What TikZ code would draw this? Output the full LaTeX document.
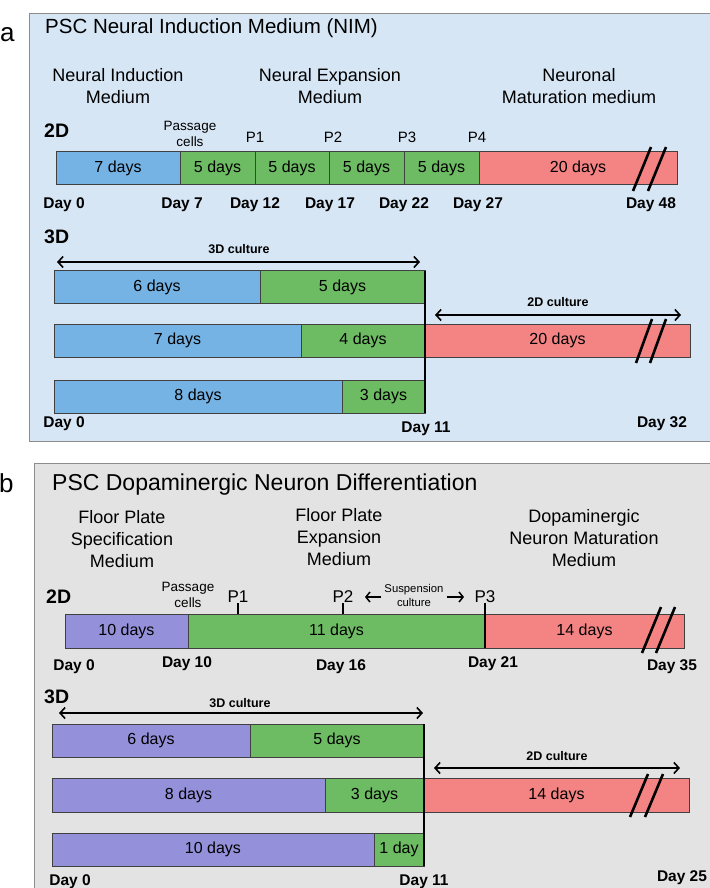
\documentclass[tikz,border=0pt]{standalone}
\usepackage{fontspec}
\setmainfont{Liberation Sans}
\usetikzlibrary{positioning}
\usetikzlibrary{arrows.meta}
\usetikzlibrary{calc}

\definecolor{nimbg}{HTML}{D6E6F5}
\definecolor{dabg}{HTML}{E3E3E3}
\definecolor{nimblue}{HTML}{75B3E5}
\definecolor{expgreen}{HTML}{6DBC63}
\definecolor{matred}{HTML}{F48383}
\definecolor{fppurple}{HTML}{9490DA}
\definecolor{segline}{HTML}{404040}
\definecolor{frameline}{HTML}{8C8C8C}

\begin{document}
\begin{tikzpicture}[x=1pt, y=-1pt, >={Straight Barb[length=5pt,width=11pt]},
	panel/.style = {draw=frameline, line width=1pt},                          % panel frames
	seg/.style = {draw=segline, line width=0.9pt, minimum height=33pt,
	              inner sep=0pt, outer sep=0pt, font=\fontsize{16}{19}\selectfont},
	medium/.style = {align=center, font=\fontsize{18}{22}\selectfont},
	dayl/.style = {inner sep=0pt, font=\bfseries\fontsize{15.5}{18}\selectfont},
	dimlbl/.style = {anchor=west, inner sep=0pt, font=\bfseries\fontsize{19.5}{22}\selectfont},
	passlbl/.style = {align=center, inner sep=0pt, font=\fontsize{13.5}{16}\selectfont},
	plbl/.style = {inner sep=0pt, font=\fontsize{15}{18}\selectfont},
	cultlbl/.style = {inner sep=0pt, font=\bfseries\fontsize{12.5}{15}\selectfont},
	span/.style = {<->, line width=1.6pt},
	sepline/.style = {line width=2.4pt},
	brk/.style = {line width=2.6pt}]
	\useasboundingbox (0,0) rectangle (709,888);

	% ---------- panel a ----------
	\draw[panel, fill=nimbg] (29,14) rectangle (714,441);
	\node[anchor=base west, inner sep=0pt, font=\fontsize{26}{30}\selectfont] (alab) at (0,42) {a};
	\node[anchor=west, inner sep=0pt, font=\fontsize{20.5}{24}\selectfont] (atitle) at (45,28) {PSC Neural Induction Medium (NIM)};
	\node[medium] (amed1) at (118,86) {Neural Induction\\Medium};
	\node[medium] (amed2) at (330,86) {Neural Expansion\\Medium};
	\node[medium] (amed3) at (579,86) {Neuronal\\Maturation medium};

	\node[dimlbl] (a2d) at (44,131) {2D};
	\node[passlbl] (apass) at (190,134) {Passage\\cells};
	\node[plbl] (ap1) at (255,137) {P1};
	\node[plbl] (ap2) at (333,137) {P2};
	\node[plbl] (ap3) at (407,137) {P3};
	\node[plbl] (ap4) at (477,137) {P4};

	\node[seg, fill=nimblue, minimum width=124pt, anchor=west] (ab0) at (56,168) {7 days};
	\node[seg, fill=expgreen, minimum width=75pt, right=0pt of ab0] (ab1) {5 days};
	\node[seg, fill=expgreen, minimum width=74pt, right=0pt of ab1] (ab2) {5 days};
	\node[seg, fill=expgreen, minimum width=75pt, right=0pt of ab2] (ab3) {5 days};
	\node[seg, fill=expgreen, minimum width=75pt, right=0pt of ab3] (ab4) {5 days};
	\node[seg, fill=matred, minimum width=198pt, right=0pt of ab4] (ab5) {20 days};
	\foreach \dx in {0,15}
		\draw[brk] (633+\dx,191) -- (651+\dx,147);
	\foreach \x/\d in {64/0, 182/7, 255/12, 330/17, 404/22, 478/27, 651/48}
		\node[dayl] (ad\d) at (\x,205) {Day \d};

	\node[dimlbl] (a3d) at (44,237) {3D};
	\coordinate (a3l) at (57,262);
	\coordinate (a3r) at (420,262);
	\draw[span] (a3l) -- (a3r);
	\node[cultlbl] (a3cult) at (239,249) {3D culture};

	\node[seg, fill=nimblue, minimum width=206pt, anchor=west] (ar1b) at (54,287) {6 days};
	\node[seg, fill=expgreen, minimum width=165pt, right=0pt of ar1b] (ar1g) {5 days};
	\node[seg, fill=nimblue, minimum width=247pt, anchor=west] (ar2b) at (54,340.5) {7 days};
	\node[seg, fill=expgreen, minimum width=124pt, right=0pt of ar2b] (ar2g) {4 days};
	\node[seg, fill=matred, minimum width=265pt, right=0pt of ar2g] (ar2r) {20 days};
	\node[seg, fill=nimblue, minimum width=288pt, anchor=west] (ar3b) at (54,396.5) {8 days};
	\node[seg, fill=expgreen, minimum width=83pt, right=0pt of ar3b] (ar3g) {3 days};
	\draw[sepline] (ar1g.north east) -- (ar3g.south east);

	\coordinate (a2l) at (435,315);
	\coordinate (a2r) at (681,315);
	\draw[span] (a2l) -- (a2r);
	\node[cultlbl] (a2cult) at (558,302) {2D culture};
	\foreach \dx in {0,14}
		\draw[brk] (636+\dx,363) -- (652+\dx,319);

	\node[dayl] (a3d0) at (64,424) {Day 0};
	\node[dayl] (a3d11) at (426,429) {Day 11};
	\node[dayl] (a3d32) at (662,424) {Day 32};

	% ---------- panel b ----------
	\draw[panel, fill=dabg] (34,463) rectangle (714,892);
	\node[anchor=base west, inner sep=0pt, font=\fontsize{26}{30}\selectfont] (blab) at (-1,492) {b};
	\node[anchor=west, inner sep=0pt, font=\fontsize{23}{27}\selectfont] (btitle) at (52,485) {PSC Dopaminergic Neuron Differentiation};
	\node[medium] (bmed1) at (122,539) {Floor Plate\\Specification\\Medium};
	\node[medium] (bmed2) at (339,537) {Floor Plate\\Expansion\\Medium};
	\node[medium] (bmed3) at (584,538) {Dopaminergic\\Neuron Maturation\\Medium};

	\node[dimlbl] (b2d) at (46,597) {2D};
	\node[passlbl] (bpass) at (188,595) {Passage\\cells};
	\node[plbl, font=\fontsize{17}{20}\selectfont] (bp1) at (238,597) {P1};
	\node[plbl, font=\fontsize{17}{20}\selectfont] (bp2) at (343,597) {P2};
	\node[plbl, font=\fontsize{17}{20}\selectfont] (bp3) at (485,597) {P3};
	\node[passlbl, font=\fontsize{11.3}{14}\selectfont] (bsusp) at (414,595) {Suspension\\culture};
	\coordinate (bsl) at (365,597);
	\coordinate (bsr) at (464,597);
	\draw[->, line width=1.5pt, >={Straight Barb[length=4pt,width=10pt]}] (bsusp.west |- bsl) ++(-3,0) -- (bsl);
	\draw[->, line width=1.5pt, >={Straight Barb[length=4pt,width=10pt]}] (bsusp.east |- bsr) ++(3,0) -- (bsr);

	\node[seg, fill=fppurple, minimum width=123pt, minimum height=34pt, anchor=west] (bb0) at (65,631) {10 days};
	\node[seg, fill=expgreen, minimum width=297pt, minimum height=34pt, right=0pt of bb0] (bb1) {11 days};
	\node[seg, fill=matred, minimum width=199pt, minimum height=34pt, right=0pt of bb1] (bb2) {14 days};
	\draw[line width=1.4pt] (bp1.south) -- (bp1.south |- bb1.north);
	\draw[line width=1.4pt] (bp2.south) -- (bp2.south |- bb1.north);
	\draw[sepline] (bb1.north east |- bp3.south) -- (bb1.south east);
	\foreach \dx in {0,14}
		\draw[brk] (642+\dx,653) -- (661+\dx,607);
	\node[dayl] (bd0) at (74,667) {Day 0};
	\node[dayl] (bd10) at (187,664) {Day 10};
	\node[dayl] (bd16) at (341,667) {Day 16};
	\node[dayl] (bd21) at (493,664) {Day 21};
	\node[dayl] (bd35) at (672,667) {Day 35};

	\node[dimlbl] (b3d) at (44,697) {3D};
	\coordinate (b3l) at (59,713);
	\coordinate (b3r) at (423,713);
	\draw[span] (b3l) -- (b3r);
	\node[cultlbl] (b3cult) at (240,703) {3D culture};

	\node[seg, fill=fppurple, minimum width=198pt, anchor=west] (br1p) at (52,740.5) {6 days};
	\node[seg, fill=expgreen, minimum width=174pt, right=0pt of br1p] (br1g) {5 days};
	\node[seg, fill=fppurple, minimum width=273pt, minimum height=34pt, anchor=west] (br2p) at (52,795) {8 days};
	\node[seg, fill=expgreen, minimum width=99pt, minimum height=34pt, right=0pt of br2p] (br2g) {3 days};
	\node[seg, fill=matred, minimum width=265pt, minimum height=34pt, right=0pt of br2g] (br2r) {14 days};
	\node[seg, fill=fppurple, minimum width=322pt, anchor=west] (br3p) at (52,849.5) {10 days};
	\node[seg, fill=expgreen, minimum width=50pt, right=0pt of br3p] (br3g) {1 day};
	\draw[sepline] (br1g.north east) -- (br3g.south east);

	\coordinate (b2l) at (434,768);
	\coordinate (b2r) at (680,768);
	\draw[span] (b2l) -- (b2r);
	\node[cultlbl] (b2cult) at (557,756) {2D culture};
	\foreach \dx in {0,15}
		\draw[brk] (630+\dx,817) -- (648+\dx,774);

	\node[dayl] (b3d0) at (70,882) {Day 0};
	\node[dayl] (b3d11) at (424,882) {Day 11};
	\node[dayl] (b3d25) at (682,878) {Day 25};
\end{tikzpicture}
\end{document}
